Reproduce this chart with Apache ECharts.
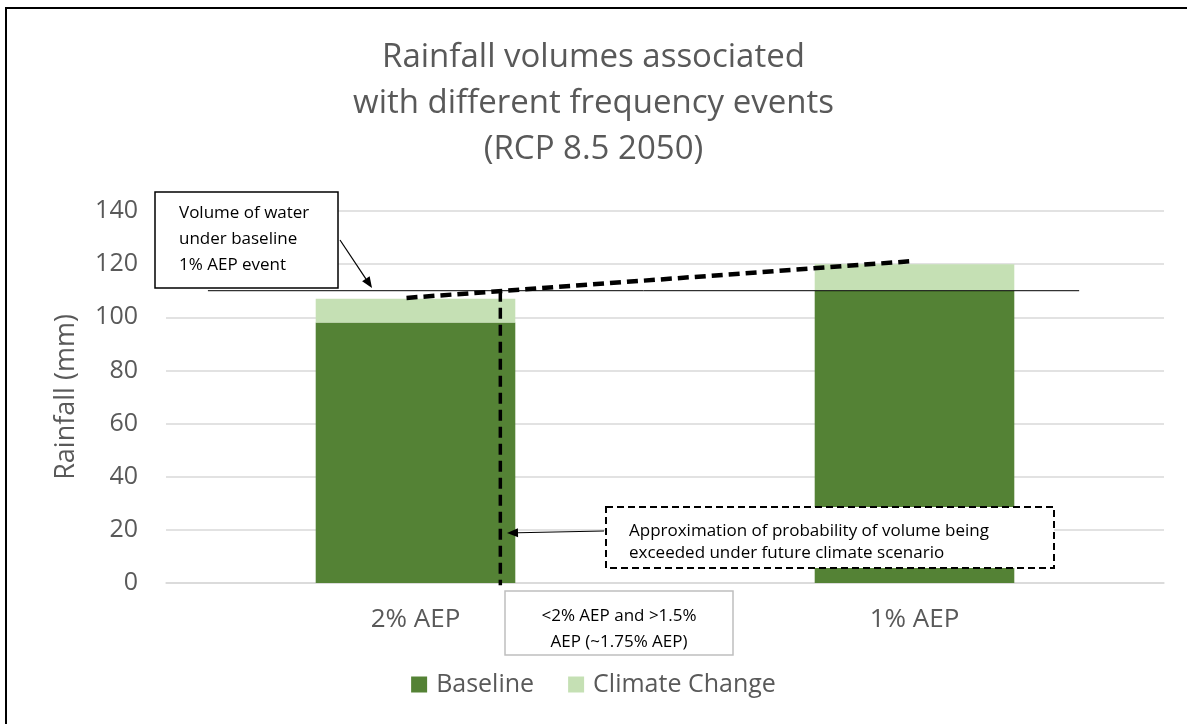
<!DOCTYPE html>
<html>
<head>
<meta charset="utf-8">
<script src="https://cdn.jsdelivr.net/npm/echarts@6/dist/echarts.min.js"></script>
<style>
  html, body { margin: 0; padding: 0; background: #fff; }
  #chart { width: 1187px; height: 724px; }
</style>
</head>
<body>
<div id="chart"></div>
<script>
// data
var categories = ['2% AEP', '1% AEP'];
var baseline = [98, 110];
var climateChange = [9, 10];
var yTicks = [0, 20, 40, 60, 80, 100, 120, 140];

// annotation lines, in (category position, mm) on a hidden value axis
var baselineEventLine = [[-0.416, 110], [1.33, 110]];
var futureLine = [[-0.018, 107.3], [1.0, 121.2]];
var crossLine = [[0.17, 110], [0.17, -0.8]];

var font = 'Open Sans';
var grey = '#595959';

function arrow(x1, y1, x2, y2) {
    var a = Math.atan2(y2 - y1, x2 - x1);
    var L = 11, W = 4.5;
    var bx = x2 - L * Math.cos(a), by = y2 - L * Math.sin(a);
    return [{
        type: 'line', z: 101,
        shape: { x1: x1, y1: y1, x2: bx, y2: by },
        style: { stroke: '#000', lineWidth: 1.2 }
    }, {
        type: 'polygon', z: 101,
        shape: { points: [[x2, y2], [bx + W * Math.sin(a), by - W * Math.cos(a)], [bx - W * Math.sin(a), by + W * Math.cos(a)]] },
        style: { fill: '#000' }
    }];
}

var graphics = [
    // outer frame
    { type: 'rect', z: 100, shape: { x: 6, y: 8, width: 1300, height: 900 },
      style: { fill: null, stroke: '#000', lineWidth: 2 } },
    // box: baseline 1% event
    { type: 'rect', z: 100, shape: { x: 155, y: 192, width: 183, height: 96 },
      style: { fill: '#fff', stroke: '#000', lineWidth: 1.5 } },
    { type: 'text', z: 101, left: 179, top: 200,
      style: { text: 'Volume of water\nunder baseline\n1% AEP event', font: '17px "Open Sans"', lineHeight: 26, fill: '#000' } },
    // dashed box
    { type: 'rect', z: 100, shape: { x: 606, y: 507, width: 448, height: 61 },
      style: { fill: '#fff', stroke: '#000', lineWidth: 2, lineDash: [7, 4] } },
    { type: 'text', z: 101, left: 629, top: 520,
      style: { text: 'Approximation of probability of volume being\nexceeded under future climate scenario', font: '17px "Open Sans"', lineHeight: 22, fill: '#000' } },
    // grey box under axis
    { type: 'rect', z: 100, shape: { x: 505, y: 591, width: 228, height: 64 },
      style: { fill: '#fff', stroke: '#bfbfbf', lineWidth: 1.5 } },
    { type: 'text', z: 101, x: 619, y: 629,
      style: { text: '<2% AEP and >1.5%\nAEP (~1.75% AEP)', font: '17px "Open Sans"', lineHeight: 26, fill: '#000', align: 'center', verticalAlign: 'middle' } }
].concat(arrow(340, 240, 372, 288)).concat(arrow(604, 531, 507, 533));

var myChart = echarts.init(document.getElementById('chart'));
var option = {
    animation: false,
    backgroundColor: '#fff',
    title: {
        text: 'Rainfall volumes associated\nwith different frequency events\n(RCP 8.5 2050)',
        left: 'center',
        top: 30,
        textStyle: { fontFamily: font, fontSize: 33, fontWeight: 'normal', color: grey, lineHeight: 46 }
    },
    legend: {
        data: ['Baseline', 'Climate Change'],
        top: 667,
        left: 'center',
        itemWidth: 16,
        itemHeight: 16,
        itemGap: 34,
        icon: 'rect',
        textStyle: { fontFamily: font, fontSize: 25, color: grey, padding: [0, 0, 0, 4] }
    },
    grid: { left: 166, right: 23, top: 211, bottom: 141 },
    xAxis: [{
        type: 'category',
        data: categories,
        axisLine: { lineStyle: { color: '#d9d9d9', width: 1.5 } },
        axisTick: { show: false },
        axisLabel: { fontFamily: font, fontSize: 26, color: grey, margin: 24 }
    }, {
        type: 'value',
        min: -0.5,
        max: 1.5,
        show: false
    }],
    yAxis: {
        type: 'value',
        min: yTicks[0],
        max: yTicks[yTicks.length - 1],
        interval: 20,
        name: 'Rainfall (mm)',
        nameLocation: 'middle',
        nameGap: 86,
        nameTextStyle: { fontFamily: font, fontSize: 27, color: grey },
        axisLine: { show: false },
        axisTick: { show: false },
        axisLabel: { fontFamily: font, fontSize: 25, color: grey, margin: 28 },
        splitLine: { lineStyle: { color: '#d9d9d9', width: 1.5 } }
    },
    series: [{
        name: 'Baseline',
        type: 'bar',
        stack: 'rain',
        barWidth: '40%',
        itemStyle: { color: '#548235' },
        data: baseline
    }, {
        name: 'Climate Change',
        type: 'bar',
        stack: 'rain',
        barWidth: '40%',
        itemStyle: { color: '#c5e0b4' },
        data: climateChange
    }, {
        type: 'line',
        xAxisIndex: 1,
        showSymbol: false,
        silent: true,
        clip: false,
        lineStyle: { color: '#000', width: 1 },
        data: baselineEventLine,
        z: 5
    }, {
        type: 'line',
        xAxisIndex: 1,
        showSymbol: false,
        silent: true,
        clip: false,
        lineStyle: { color: '#000', width: 4.5, type: [11, 6] },
        data: futureLine,
        z: 6
    }, {
        type: 'line',
        xAxisIndex: 1,
        showSymbol: false,
        silent: true,
        clip: false,
        lineStyle: { color: '#000', width: 3.5, type: [11, 6] },
        data: crossLine,
        z: 6
    }],
    graphic: graphics
};
myChart.setOption(option);
window.addEventListener('resize', function () {
    myChart.resize();
});
</script>
</body>
</html>
